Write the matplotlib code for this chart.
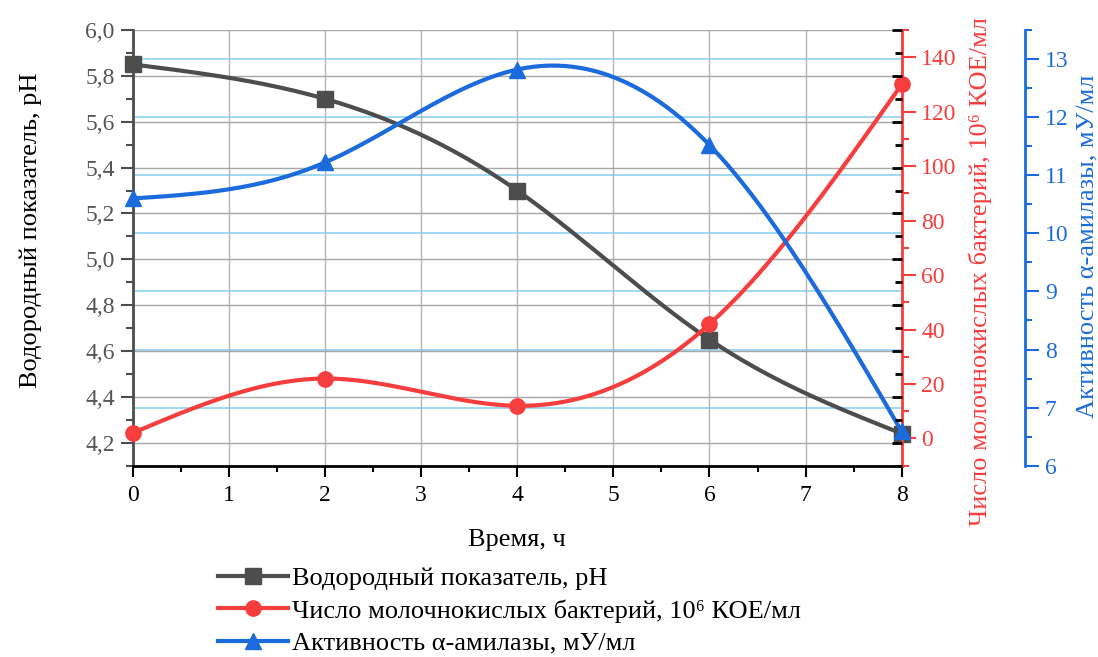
import numpy as np
import matplotlib
matplotlib.use("Agg")
import matplotlib.pyplot as plt
from matplotlib.lines import Line2D
from matplotlib.ticker import FixedLocator, FuncFormatter, MultipleLocator
import matplotlib.transforms as mtransforms

plt.rcParams['font.family'] = ['Liberation Serif', 'DejaVu Serif']

# data
time_h = [0, 2, 4, 6, 8]
ph = [5.85, 5.70, 5.30, 4.65, 4.24]
bacteria = [2, 22, 12, 42, 130]
amylase = [10.6, 11.22, 12.82, 11.52, 6.59]

ph_ticks = [4.2, 4.4, 4.6, 4.8, 5.0, 5.2, 5.4, 5.6, 5.8, 6.0]
bact_ticks = [0, 20, 40, 60, 80, 100, 120, 140]
amyl_ticks = [6, 7, 8, 9, 10, 11, 12, 13]

labels = ["Водородный показатель, pH",
          "Число молочнокислых бактерий, 10⁶ КОЕ/мл",
          "Активность α-амилазы, мУ/мл"]

C_PH = '#4d4d4d'
C_RED = '#f73e3e'
C_BLUE = '#1c6bdc'
C_GRIDB = '#8fd2f2'


def smooth(x, y, n=200):
    # natural cubic spline through the points (drawing only)
    x = np.asarray(x, float)
    y = np.asarray(y, float)
    h = np.diff(x)
    m = len(x)
    A = np.zeros((m, m))
    b = np.zeros(m)
    A[0, 0] = A[-1, -1] = 1
    for i in range(1, m - 1):
        A[i, i - 1] = h[i - 1]
        A[i, i] = 2 * (h[i - 1] + h[i])
        A[i, i + 1] = h[i]
        b[i] = 6 * ((y[i + 1] - y[i]) / h[i] - (y[i] - y[i - 1]) / h[i - 1])
    M = np.linalg.solve(A, b)
    xs = np.linspace(x[0], x[-1], n)
    k = np.clip(np.searchsorted(x, xs) - 1, 0, m - 2)
    t0 = x[k + 1] - xs
    t1 = xs - x[k]
    hk = h[k]
    ys = (M[k] * t0**3 + M[k + 1] * t1**3) / (6 * hk) \
        + (y[k] / hk - M[k] * hk / 6) * t0 + (y[k + 1] / hk - M[k + 1] * hk / 6) * t1
    return xs, ys


fig = plt.figure(figsize=(10.98, 6.57), dpi=100)
ax = fig.add_axes([0.1209, 0.2912, 0.7003, 0.6631])
axr = ax.twinx()
axb = ax.twinx()
axm = ax.twinx()  # mirrored pH ticks on the right

fs_tick = 17
fs_lab = 19

# main pH axis
ax.set_xlim(0, 8)
ax.set_ylim(4.1, 6.0)
ax.xaxis.set_major_locator(MultipleLocator(1))
ax.xaxis.set_minor_locator(MultipleLocator(0.5))
ax.yaxis.set_major_locator(FixedLocator(ph_ticks))
ax.yaxis.set_minor_locator(MultipleLocator(0.1))
ax.yaxis.set_major_formatter(FuncFormatter(lambda v, p: f"{v:.1f}".replace('.', ',')))
ax.tick_params(axis='x', which='major', length=8, width=1.5, labelsize=fs_tick, pad=6, color='black')
ax.tick_params(axis='x', which='minor', length=4, width=1.5, color='black')
ax.tick_params(axis='y', which='major', length=9, width=1.5, labelsize=fs_tick, color=C_PH,
               labelcolor='#555555', pad=4)
ax.tick_params(axis='y', which='minor', length=5, width=1.5, color=C_PH)
for s in ['top', 'right']:
    ax.spines[s].set_visible(False)
ax.spines['left'].set_color(C_PH)
ax.spines['left'].set_linewidth(2)
ax.spines['bottom'].set_color('black')
ax.spines['bottom'].set_linewidth(2)
ax.set_axisbelow(True)
ax.grid(axis='x', which='major', color='#b4b4b4', lw=1)
ax.grid(axis='y', which='major', color='#a8a8a8', lw=1)

# bacteria axis
axr.set_ylim(-10, 150)
axr.yaxis.set_major_locator(FixedLocator(bact_ticks))
axr.yaxis.set_minor_locator(MultipleLocator(10))
axr.tick_params(axis='y', which='major', length=10, width=1.5, colors=C_RED, labelsize=fs_tick, pad=4)
axr.tick_params(axis='y', which='minor', length=5, width=1.5, color=C_RED)
for s in ['top', 'left', 'bottom']:
    axr.spines[s].set_visible(False)
axr.spines['right'].set_color(C_RED)
axr.spines['right'].set_linewidth(2)

# amylase axis
axb.set_ylim(6, 13.5)
axb.spines['right'].set_position(('axes', 1.161))
axb.yaxis.set_major_locator(FixedLocator(amyl_ticks))
axb.yaxis.set_minor_locator(MultipleLocator(0.5))
axb.tick_params(axis='y', which='major', length=10, width=1.5, colors=C_BLUE, labelsize=fs_tick, pad=4)
axb.tick_params(axis='y', which='minor', length=5, width=1.5, color=C_BLUE)
for s in ['top', 'left', 'bottom']:
    axb.spines[s].set_visible(False)
axb.spines['right'].set_color(C_BLUE)
axb.spines['right'].set_linewidth(2)

# mirrored pH ticks
axm.set_ylim(ax.get_ylim())
axm.yaxis.set_major_locator(FixedLocator(ph_ticks))
axm.yaxis.set_minor_locator(MultipleLocator(0.1))
axm.tick_params(axis='y', which='both', direction='in', color='black', width=2, labelright=False)
axm.tick_params(axis='y', which='major', length=7)
axm.tick_params(axis='y', which='minor', length=5)
for s in axm.spines.values():
    s.set_visible(False)

# light-blue grid from the amylase scale, drawn under everything
trans = mtransforms.blended_transform_factory(ax.transAxes, axb.transData)
for v in amyl_ticks[1:]:
    ax.plot([0, 1], [v, v], transform=trans, color=C_GRIDB, lw=1.2, zorder=0.5)

# curves
lw = 3
xs, ys = smooth(time_h, ph)
ax.plot(xs, ys, color=C_PH, lw=lw, clip_on=False, zorder=3)
ax.plot(time_h, ph, 's', color=C_PH, ms=11, clip_on=False, zorder=4)

xs, ys = smooth(time_h, bacteria)
axr.plot(xs, ys, color=C_RED, lw=lw, clip_on=False)
axr.plot(time_h, bacteria, 'o', color=C_RED, ms=11, clip_on=False)

xs, ys = smooth(time_h, amylase)
axb.plot(xs, ys, color=C_BLUE, lw=lw, clip_on=False)
axb.plot(time_h, amylase, '^', color=C_BLUE, ms=12, clip_on=False)

# labels
ax.set_xlabel("Время, ч", fontsize=fs_lab)
ax.xaxis.set_label_coords(0.5, -0.145)
ax.set_ylabel(labels[0], fontsize=fs_lab, va='center')
ax.yaxis.set_label_coords(-0.132, 0.54)
axr.set_ylabel(labels[1], fontsize=fs_lab, color=C_RED, va='center')
axr.yaxis.set_label_coords(1.102, 0.445)
axb.set_ylabel(labels[2], fontsize=fs_lab, color=C_BLUE, va='center')
axb.yaxis.set_label_coords(1.242, 0.504)

handles = [Line2D([], [], color=C_PH, lw=lw, marker='s', ms=11),
           Line2D([], [], color=C_RED, lw=lw, marker='o', ms=11),
           Line2D([], [], color=C_BLUE, lw=lw, marker='^', ms=12)]
fig.legend(handles, labels, loc='upper left', bbox_to_anchor=(0.1985, 0.137),
           frameon=False, fontsize=fs_lab, handlelength=2.65, handletextpad=0.15,
           labelspacing=0.33, borderpad=0, borderaxespad=0)

fig.savefig("out.png", dpi=100, facecolor='white')
